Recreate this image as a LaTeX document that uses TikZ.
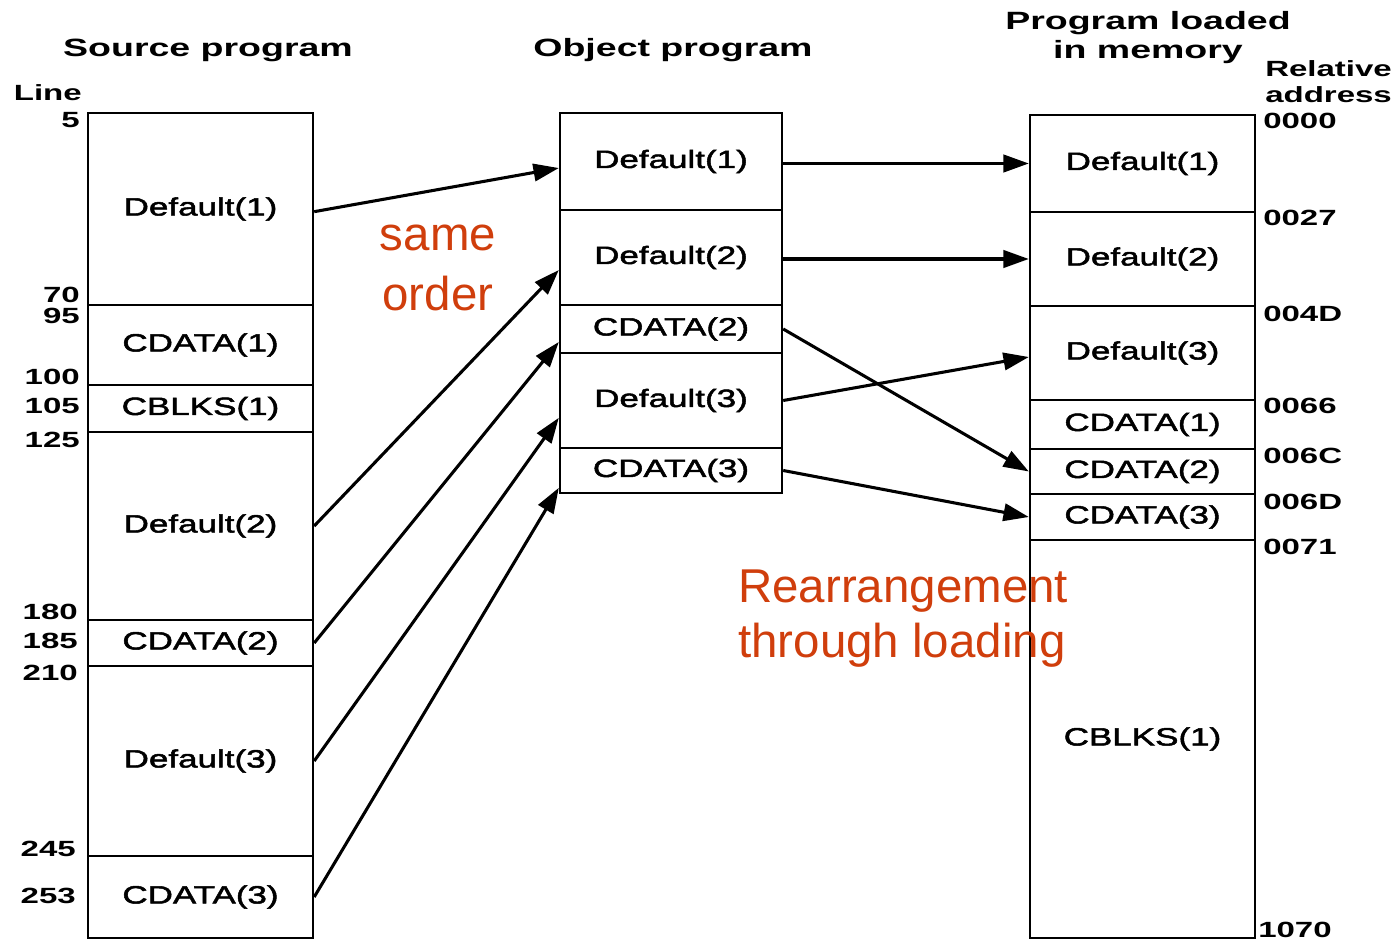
\documentclass[tikz,border=0pt]{standalone}
\usepackage{fontspec}
\usetikzlibrary{arrows.meta}
\newfontfamily\headfont{Liberation Sans}[FakeStretch=1.5]
\newfontfamily\cellfont{Liberation Sans}[FakeStretch=1.4,FakeBold=2]
\newfontfamily\notefont{Liberation Sans}
\definecolor{notered}{RGB}{208,62,12}

\begin{document}
\begin{tikzpicture}[x=0.75pt,y=-0.75pt,
  seg/.style={draw, line width=1.8pt, inner sep=0pt,
    font=\cellfont\fontsize{18.75}{22}\selectfont},
  % a cell given by its corners (x1,y1) and (x2,y2)
  span/.style n args={4}{at={({(#1+#3)/2},{(#2+#4)/2})},
    minimum width={(#3-#1)*0.75pt}, minimum height={(#4-#2)*0.75pt}},
  title/.style={font=\headfont\bfseries\fontsize{18.75}{21.75}\selectfont,
    align=center, inner sep=0pt},
  num/.style={font=\headfont\bfseries\fontsize{16.5}{19.5}\selectfont, inner sep=0pt},
  note/.style={text=notered, inner sep=0pt},
  arr/.style={line width=2.3pt, -{Triangle[length=19pt,width=13pt]}}
]
\useasboundingbox[fill=white] (0,0) rectangle (1396,941);

% ---- titles ----
\node[title, anchor=base] (tsrc) at (208,57) {Source program};
\node[title, anchor=base] (tobj) at (673,57) {Object program};
\node[title, anchor=north] (tmem) at (1148,11) {Program loaded\\in memory};

% ---- source program ----
\node[seg, span={88}{113}{313}{305}] (s1) {Default(1)};
\node[seg, span={88}{305}{313}{385}] (s2) {CDATA(1)};
\node[seg, span={88}{385}{313}{432}] (s3) {CBLKS(1)};
\node[seg, span={88}{432}{313}{620}] (s4) {Default(2)};
\node[seg, span={88}{620}{313}{666}] (s5) {CDATA(2)};
\node[seg, span={88}{666}{313}{856}] (s6) {Default(3)};
\node[seg, span={88}{856}{313}{938}] (s7) {CDATA(3)};

% line numbers
\node[num, anchor=east] (lhead) at (82,93) {Line};
\node[num, anchor=east] (l5)   at (80,120) {5};
\node[num, anchor=east] (l70)  at (80,295) {70};
\node[num, anchor=east] (l95)  at (80,316) {95};
\node[num, anchor=east] (l100) at (80,377) {100};
\node[num, anchor=east] (l105) at (80,406) {105};
\node[num, anchor=east] (l125) at (80,440) {125};
\node[num, anchor=east] (l180) at (78,612) {180};
\node[num, anchor=east] (l185) at (78,641) {185};
\node[num, anchor=east] (l210) at (78,673) {210};
\node[num, anchor=east] (l245) at (76,849) {245};
\node[num, anchor=east] (l253) at (76,896) {253};

% ---- object program ----
\node[seg, span={560}{113}{782}{210}] (o1) {Default(1)};
\node[seg, span={560}{210}{782}{305}] (o2) {Default(2)};
\node[seg, span={560}{305}{782}{353}] (o3) {CDATA(2)};
\node[seg, span={560}{353}{782}{448}] (o4) {Default(3)};
\node[seg, span={560}{448}{782}{493}] (o5) {CDATA(3)};

% ---- program loaded in memory ----
\node[seg, span={1030}{115}{1255}{212}] (m1) {Default(1)};
\node[seg, span={1030}{212}{1255}{306}] (m2) {Default(2)};
\node[seg, span={1030}{306}{1255}{400}] (m3) {Default(3)};
\node[seg, span={1030}{400}{1255}{449}] (m4) {CDATA(1)};
\node[seg, span={1030}{449}{1255}{494}] (m5) {CDATA(2)};
\node[seg, span={1030}{494}{1255}{540}] (m6) {CDATA(3)};
\node[seg, span={1030}{540}{1255}{938}] (m7) {CBLKS(1)};

% relative addresses
\node[num, anchor=west, align=left] (ahead) at (1265,82) {Relative\\address};
\node[num, anchor=west] (a0000) at (1263,121) {0000};
\node[num, anchor=west] (a0027) at (1263,218) {0027};
\node[num, anchor=west] (a004D) at (1263,314) {004D};
\node[num, anchor=west] (a0066) at (1263,406) {0066};
\node[num, anchor=west] (a006C) at (1263,456) {006C};
\node[num, anchor=west] (a006D) at (1263,502) {006D};
\node[num, anchor=west] (a0071) at (1263,547) {0071};
\node[num, anchor=west] (a1070) at (1258,930) {1070};

% ---- compiling: source -> object ----
\draw[arr] ([yshift=-2pt]s1.east) -- ([yshift=-4.9pt]o1.west);
\draw[arr] (s4.east) -- ([yshift=-9.4pt]o2.west);
\draw[arr] (s5.east) -- ([yshift=-9.75pt]o3.west);
\draw[arr] (s6.east) -- ([yshift=-13pt]o4.west);
\draw[arr] (s7.east) -- ([yshift=-13pt]o5.west);

% ---- loading: object -> memory ----
\draw[arr] (o1.east |- m1.west) -- (m1.west);
\draw[arr] (o2.east |- m2.west) -- (m2.west);
\draw[arr] (o3.east) -- (m5.west);
\draw[arr] (o4.east) -- ([yshift=-3pt]m3.west);
\draw[arr] (o5.east) -- (m6.west);

% ---- notes ----
\node[note, align=center, font=\notefont\fontsize{35.6}{45}\selectfont]
  (nsame) at (438,267.7) {same\\order};
\node[note, align=left, anchor=west, font=\notefont\fontsize{35.6}{41.25}\selectfont]
  (nload) at (738,618.5) {Rearrangement\\through loading};
\end{tikzpicture}
\end{document}
